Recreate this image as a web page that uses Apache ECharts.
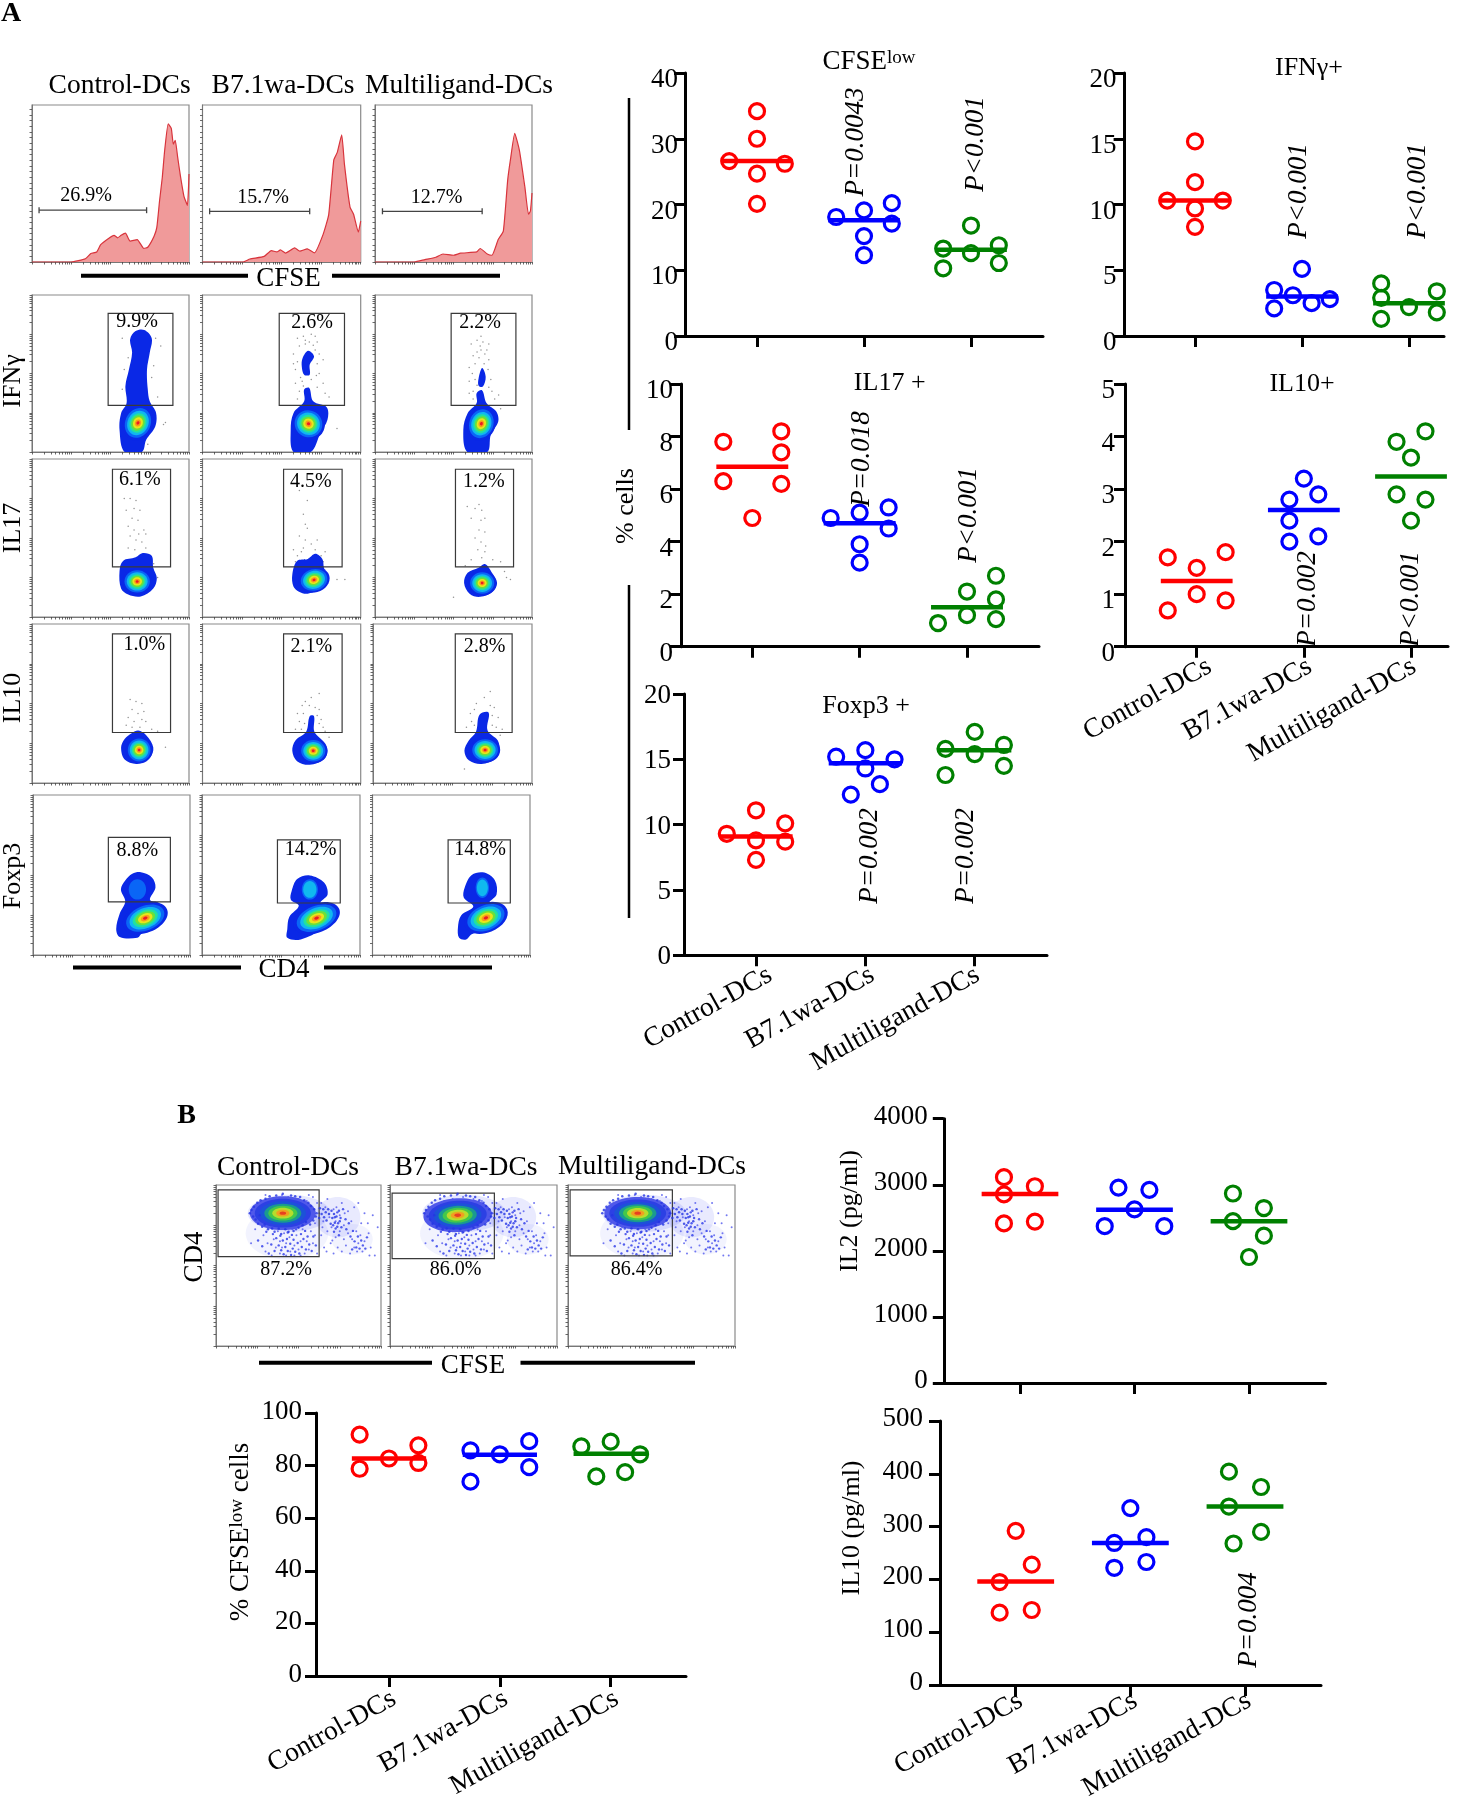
<!DOCTYPE html>
<html><head><meta charset="utf-8">
<style>html,body{margin:0;padding:0;background:#fff}#c{width:1477px;height:1800px}</style>
<script src="https://cdn.jsdelivr.net/npm/echarts@6/dist/echarts.min.js"></script>
</head><body><div id="c"></div>
<script>
// ---------- dot-plot data ----------
const categories = ['Control-DCs','B7.1wa-DCs','Multiligand-DCs'];
const cfseValues = [[34.2,30,26.6,26.2,24.7,20.1],[18.1,19.1,20.2,17.1,15.2,12.3],[13.3,16.8,13.8,12.6,11.1,10.3]];
const cfseX      = [[1,1,.74,1.26,1,1],[1.74,2,2.26,2.26,2,2],[2.74,3,3.26,3,3.26,2.74]];
const cfseMeans  = [26.6,17.6,13.1];
const ifnValues  = [[14.8,11.7,10.3,10.3,9.7,8.3],[5.1,3.5,3.1,2.5,2.8,2.1],[4,2.9,2.2,3.4,1.8,1.3]];
const ifnX       = [[1,1,.74,1.26,1,1],[2,1.74,1.915,2.09,2.26,1.74],[2.74,2.74,3,3.26,3.26,2.74]];
const ifnMeans   = [10.3,3.0,2.5];
const il17Values = [[8.2,7.8,7.4,6.3,6.2,4.9],[4.9,5.1,5.3,4.5,3.9,3.2],[2.7,2.1,1.8,1.2,1.05,.9]];
const il17X      = [[1.27,.73,1.27,.73,1.27,1],[1.73,2,2.27,2.27,2,2],[3.27,3,3.27,3,3.27,2.73]];
const il17Means  = [6.85,4.7,1.5];
const il10Values = [[1.8,1.7,1.5,1,.88,.69],[3.2,2.9,2.8,2.4,2.1,2],[4.1,3.9,3.6,2.9,2.8,2.4]];
const il10X      = [[1.27,.73,1,1,1.27,.73],[2,2.135,1.865,1.865,2.135,1.865],[3.135,2.865,3,2.865,3.135,3]];
const il10Means  = [1.25,2.6,3.24];
const foxValues  = [[11.1,10.1,9.3,8.8,8.7,7.3],[15.7,15.2,15,14.3,13.1,12.3],[17.1,15.8,16.1,15.4,14.5,13.8]];
const foxX       = [[1,1.267,.733,1,1.267,1],[2,1.733,2.267,2,2.133,1.867],[3,2.733,3.267,3,3.267,2.733]];
const foxMeans   = [9.1,14.7,15.7];
const il2Values  = [[3115,2978,2854,2415,2443],[2957,2923,2628,2374,2374],[2868,2648,2449,2230,1907]];
const il2X       = [[.86,1.13,.86,.86,1.13],[1.86,2.13,2,1.74,2.26],[2.86,3.13,2.86,3.13,3]];
const il2Means   = [2861,2621,2449];
const il10pgValues = [[292,228,195,142,137],[335,280,269,233,222],[404,375,338,290,268]];
const il10pgX    = [[1,1.14,.86,1.14,.86],[2,2.14,1.86,2.14,1.86],[2.86,3.14,2.86,3.14,2.9]];
const il10pgMeans= [196,269,338];
const cfseBValues= [[91.8,87.7,82.7,81,78.8],[89.3,85.8,84.3,79.4,73.9],[89.1,87.3,84.3,77.5,75.9]];
const cfseBX     = [[.735,1.265,1,1.265,.735],[2.265,1.735,2,2.265,1.735],[3,2.735,3.265,3.13,2.87]];
const cfseBMeans = [82.7,84.1,84.5];

// ---------- CFSE histograms (log CFSE, % of peak scale) ----------
const hist1 = [[0,0],[1,0],[1.36,2.1],[1.5,5.4],[1.65,6.4],[1.75,11],[1.95,15],[2.09,17],[2.18,15.4],[2.27,17],[2.38,18.4],[2.5,13.3],[2.68,14.3],[2.85,8.6],[2.95,9.4],[3.11,16.4],[3.18,22],[3.25,39],[3.32,54],[3.38,71],[3.47,88],[3.55,85],[3.6,75],[3.65,77.5],[3.71,67],[3.78,55],[3.87,42],[3.96,36],[4,56]];
const hist2 = [[0,0],[1.02,0],[1.2,1.9],[1.56,3.6],[1.74,7.3],[1.88,6.4],[1.97,7.7],[2.1,5.7],[2.33,9],[2.46,6.9],[2.65,8.4],[2.83,5.8],[3.05,17.6],[3.19,30],[3.32,65],[3.41,70],[3.52,81],[3.59,62],[3.73,35],[3.82,30.4],[3.94,19],[4,26]];
const hist3 = [[0,0],[1,0],[1.27,1.5],[1.55,3],[1.73,5.1],[2,4.3],[2.18,5.6],[2.59,6.4],[2.68,8.6],[2.86,5.1],[2.98,4.3],[3.14,14.3],[3.27,19.7],[3.38,52],[3.45,65],[3.56,82],[3.68,71],[3.82,47.5],[3.91,30.4],[3.96,32.5],[4,44]];
const histGates = [[.18,2.92,33],[.18,2.71,32.3],[.19,2.73,32.3]];
const histPercents = ['26.9%','15.7%','12.7%'];
const histLabelAt = [[1.38,42],[1.53,41],[1.57,41]];

// ---------- flow plots (log/log) ----------
const logTicks = [0,.3,.48,.6,.7,.78,.85,.9,.95,1,1.3,1.48,1.6,1.7,1.78,1.85,1.9,1.95,2,2.3,2.48,2.6,2.7,2.78,2.85,2.9,2.95,3,3.3,3.48,3.6,3.7,3.78,3.85,3.9,3.95,4];
const histYTicks = [0,3.6,7.2,10.8,14.4,18,21.6,25.2,28.8,32.4,36,39.6,43.2,46.8,50.4,54,57.6,61.2,64.8,68.4,72,75.6,79.2,82.8,86.4,90,93.6,97.2];
const flowRowNames = ['IFNγ','IL17','IL10','Foxp3'];
const flowPercents = [['9.9%','2.6%','2.2%'],['6.1%','4.5%','1.2%'],['1.0%','2.1%','2.8%'],['8.8%','14.2%','14.8%']];
const flowLabelAt = [[[2.68,3.32],[2.77,3.3],[2.68,3.3]],[[2.75,3.48],[2.74,3.43],[2.77,3.43]],[[2.86,3.49],[2.75,3.44],[2.81,3.44]],[[2.66,2.61],[2.75,2.63],[2.73,2.63]]];
const flowGates = [[[1.94,3.59,1.19,3.53],[1.94,3.59,1.19,3.53],[1.94,3.59,1.19,3.53]],[[2.05,3.53,1.27,3.74],[2.05,3.53,1.27,3.74],[2.05,3.53,1.27,3.74]],[[2.05,3.53,1.27,3.75],[2.05,3.53,1.27,3.75],[2.07,3.5,1.27,3.75]],[[1.92,3.5,1.33,2.94],[1.91,3.5,1.3,2.88],[1.92,3.5,1.3,2.88]]];
const flowOutlines = [
 [[[[2.36,0],[2.23,.57],[2.27,.99],[2.41,1.25],[2.38,1.68],[2.47,2.1],[2.55,2.53],[2.5,2.87],[2.64,3.08],[2.86,3.11],[3.05,2.9],[3.0,2.53],[2.93,2.1],[2.95,1.59],[3,1.29],[3.16,1.0],[3.14,.65],[2.91,.31],[2.8,0]]],
  [[[2.3,0],[2.23,.57],[2.3,.99],[2.57,1.29],[2.57,1.59],[2.7,1.63],[2.8,1.29],[3.14,1.14],[3.16,.82],[2.98,.48],[2.74,0]],[[2.53,2.39],[2.67,2.58],[2.82,2.44],[2.71,2.22],[2.71,1.97],[2.57,1.97],[2.51,2.18]]],
  [[[2.35,0],[2.25,.57],[2.36,.99],[2.59,1.25],[2.59,1.5],[2.73,1.57],[2.84,1.25],[3.09,1.03],[3.14,.78],[2.95,.44],[2.86,0]],[[2.64,1.88],[2.73,2.14],[2.82,1.92],[2.75,1.67],[2.64,1.69]]]],
 [[[[2.27,.72],[2.23,1.16],[2.32,1.42],[2.64,1.51],[2.82,1.62],[3.05,1.55],[3.09,1.25],[3.18,.99],[3.09,.72],[2.77,.52],[2.45,.57]]],
  [[[2.3,.77],[2.27,1.07],[2.39,1.42],[2.66,1.47],[2.85,1.6],[3.03,1.47],[3.07,1.25],[3.16,.99],[3.07,.77],[2.66,.59],[2.44,.64]]],
  [[[2.27,.86],[2.36,1.12],[2.64,1.25],[2.8,1.34],[2.98,1.12],[3.11,.86],[3,.64],[2.68,.51],[2.41,.59]]]],
 [[[[2.27,.89],[2.36,1.11],[2.55,1.26],[2.71,1.32],[2.91,1.2],[3.09,.89],[3,.63],[2.68,.48],[2.36,.59]]],
  [[[2.27,.81],[2.35,1.07],[2.62,1.29],[2.71,1.68],[2.82,1.68],[2.83,1.29],[3.07,1.03],[3.16,.81],[3.07,.59],[2.71,.46],[2.39,.55]]],
  [[[2.3,.81],[2.41,1.07],[2.59,1.29],[2.68,1.72],[2.91,1.77],[2.88,1.33],[3.14,1.07],[3.18,.81],[3.09,.61],[2.73,.48],[2.41,.57]]]],
 [[[[2.12,.65],[2.21,1.04],[2.35,1.34],[2.24,1.64],[2.35,1.86],[2.53,2.03],[2.75,2.07],[3.03,1.94],[3.12,1.69],[2.98,1.38],[3.21,1.3],[3.3,1.08],[3.16,.82],[2.75,.52],[2.66,.43],[2.21,.45]]],
  [[[2.16,.65],[2.21,.95],[2.45,1.23],[2.25,1.38],[2.27,1.6],[2.41,1.9],[2.73,1.99],[3.09,1.81],[3.18,1.51],[3,1.3],[3.32,1.17],[3.36,.95],[3.04,.65],[2.5,.39],[2.16,.43]]],
  [[[2.17,.69],[2.25,.99],[2.56,1.21],[2.32,1.43],[2.34,1.68],[2.52,2.0],[2.84,2.06],[3.11,1.86],[3.15,1.51],[2.97,1.3],[3.25,1.17],[3.29,.95],[3.02,.65],[2.52,.52],[2.38,.39],[2.2,.43]]]]
];
// density cores: cx, cy, rx, ry, tilt (deg)
const flowCores = [
 [[2.70,.74,.38,.46,-25],[2.68,.72,.42,.4,-35],[2.71,.72,.36,.44,-20]],
 [[2.68,.9,.38,.33,0],[2.82,.94,.4,.32,15],[2.73,.86,.36,.32,0]],
 [[2.73,.83,.34,.34,0],[2.8,.81,.36,.32,0],[2.82,.83,.38,.32,0]],
 [[2.86,.92,.6,.36,22],[2.9,.92,.62,.36,22],[2.88,.93,.58,.37,22]]
];
// upper Foxp3+ lobes: cx, cy, rx, ry, colour level
const foxLobes = [[2.66,1.64,.26,.3,1],[2.73,1.64,.24,.3,1],[2.79,1.68,.2,.3,1]];
const speckles = [
 [[[2.3,2.9],[2.45,2.4],[3.15,2.9],[3.28,2.7],[3.2,1.4],[3.35,.7],[2.35,2.1],[2.3,1.6],[3.05,1.9],[3.4,.75],[2.95,.2],[3.1,2.2]],
  [[2.4,2.9],[2.55,2.95],[2.75,3.0],[2.85,2.95],[2.9,2.8],[2.7,2.8],[2.45,2.7],[2.3,2.5],[2.4,2.3],[2.35,2.1],[2.48,1.9],[2.6,2.85],[2.95,2.5],[2.9,2.25],[2.95,2.0],[3.05,1.75],[3.1,1.5],[2.35,1.75],[2.45,1.55],[2.4,1.35],[2.9,1.65],[3.05,2.35],[2.75,1.85],[2.88,1.95],[2.3,2.25],[2.52,1.8],[2.85,2.6],[2.55,1.68],[3.2,1.4],[3.4,.6],[2.6,2.75],[2.8,2.72]],
  [[2.45,2.75],[2.6,2.85],[2.75,2.8],[2.9,2.75],[2.7,2.6],[2.6,2.55],[2.8,2.5],[2.5,2.45],[2.55,2.25],[2.4,2.15],[2.48,2.0],[2.55,1.85],[2.6,1.7],[2.9,2.35],[2.88,2.1],[2.95,1.85],[2.9,1.65],[3.05,1.35],[2.4,1.8],[2.4,1.5],[2.5,1.35],[2.98,1.55],[3.15,1.45],[2.65,2.4],[2.78,2.25],[2.7,2.95],[2.85,2.6],[3.2,1.1],[2.5,1.55],[2.68,2.7]]],
 [[[2.35,3.0],[2.5,3.0],[2.65,2.95],[2.4,2.7],[2.6,2.75],[2.75,2.7],[2.55,2.5],[2.7,2.45],[2.45,2.3],[2.6,2.2],[2.72,2.1],[2.85,2.2],[2.9,2.1],[2.5,2.05],[2.65,1.95],[2.8,1.9],[2.45,1.75],[2.62,1.7],[2.9,1.75],[3.1,1.35],[3.2,1.0]],
  [[2.45,3.2],[2.65,2.95],[2.55,2.6],[2.6,2.35],[2.65,2.25],[2.45,2.05],[2.6,1.95],[2.75,1.85],[2.3,1.7],[2.4,1.55],[2.5,1.65],[2.85,1.7],[3.0,1.55],[3.05,1.4],[2.35,1.4],[2.55,1.75],[3.4,.95],[3.6,.95],[3.1,1.65],[2.9,1.95]],
  [[2.35,2.8],[2.55,2.75],[2.65,2.85],[2.72,2.7],[2.7,2.45],[2.8,2.5],[2.45,2.5],[2.65,2.2],[2.8,2.15],[2.55,2.0],[2.7,1.9],[2.82,1.8],[2.62,1.7],[2.8,1.65],[2.72,1.5],[2.45,1.45],[2.3,1.3],[3.0,1.45],[3.2,1.4],[3.3,1.15],[3.35,1.0],[3.45,.95],[2.0,.5]]],
 [[[2.5,2.1],[2.65,2.05],[2.8,2.0],[2.55,1.85],[2.7,1.75],[2.85,1.8],[2.45,1.65],[2.6,1.55],[2.8,1.6],[2.9,1.55],[2.4,1.45],[2.55,1.4],[2.75,1.4],[3.05,1.35],[3.2,1.3],[3.4,.9]],
  [[2.95,2.25],[2.75,2.15],[2.6,2.05],[2.52,1.95],[2.7,1.95],[2.85,1.9],[2.95,1.85],[2.4,1.75],[2.55,1.75],[2.9,1.7],[3.0,1.6],[2.45,1.55],[2.58,1.5],[2.95,1.5],[3.05,1.4],[2.35,1.35],[2.5,1.35],[3.1,1.3],[3.2,1.15]],
  [[2.95,2.3],[2.8,2.15],[2.6,2.0],[2.55,1.85],[2.95,1.95],[3.05,1.9],[2.45,1.75],[3.0,1.7],[3.15,1.65],[2.48,1.55],[2.55,1.45],[3.0,1.45],[3.1,1.4],[3.25,1.35],[2.35,1.4],[3.2,1.2],[2.3,.35]]],
 [[],[],[]]
];
// panel B density
const bPercents = ['87.2%','86.0%','86.4%'];
const bLabelAt = [[1.7,1.9],[1.57,1.9],[1.64,1.9]];
const bGates = [[.05,2.5,2.22,3.88],[.05,2.5,2.17,3.8],[.05,2.5,2.24,3.88]];
const bCores = [[1.62,3.3,.8,.42,0],[1.62,3.25,.82,.42,3],[1.67,3.3,.8,.4,0]];
const bDots = [[.85,2.55],[.95,2.9],[1.0,3.3],[1.05,3.45],[1.1,3.1],[1.15,2.75],[1.2,2.35],[1.25,2.55],[1.3,2.95],[1.3,3.6],[1.35,2.25],[1.4,2.65],[1.45,2.45],[1.5,2.85],[1.5,3.65],[1.55,2.3],[1.55,2.6],[1.6,2.45],[1.65,2.8],[1.7,2.25],[1.7,2.55],[1.75,3.7],[1.78,2.7],[1.8,2.35],[1.85,2.9],[1.9,2.5],[1.9,2.25],[1.95,2.75],[2.0,3.65],[2.0,2.4],[2.05,2.6],[2.1,2.9],[2.15,2.3],[2.2,3.6],[2.2,2.6],[2.25,2.4],[2.3,2.85],[2.35,3.7],[2.35,2.55],[2.4,3.05],[2.45,3.55],[2.45,2.3],[2.5,3.3],[2.55,2.75],[2.55,3.55],[2.6,3.1],[2.62,2.45],[2.65,3.45],[2.7,2.85],[2.7,3.65],[2.75,3.2],[2.78,2.55],[2.8,2.95],[2.85,3.4],[2.85,2.3],[2.9,3.1],[2.9,2.7],[2.95,2.45],[3.0,3.25],[3.0,2.85],[3.05,3.55],[3.05,2.35],[3.1,3.0],[3.1,2.65],[3.15,2.5],[3.2,3.35],[3.2,2.8],[3.25,2.3],[3.3,2.65],[3.35,3.45],[3.35,2.45],[3.4,2.85],[3.45,3.55],[3.45,2.55],[3.5,2.75],[3.55,2.35],[3.6,3.3],[3.6,2.6],[3.7,2.8],[3.75,2.45],[3.8,3.25],[3.85,2.25],[3.92,2.95],[1.2,3.75],[1.35,3.0],[1.6,3.75],[1.95,3.0],[2.05,2.25],[2.25,3.75],[2.4,2.75],[2.58,2.95],[2.68,2.35],[2.82,2.62],[2.92,3.45],[3.12,3.3],[3.28,3.1],[3.42,2.35],[3.52,3.05],[3.68,3.05],[3.72,2.25]];
const bDotsLower = [[1.02,2.62],[1.12,2.48],[1.22,2.84],[1.28,2.3],[1.34,2.52],[1.38,2.78],[1.42,2.36],[1.46,2.68],[1.48,2.96],[1.52,2.5],[1.56,2.74],[1.58,2.38],[1.62,2.62],[1.64,2.28],[1.66,2.92],[1.68,2.46],[1.72,2.66],[1.74,2.36],[1.76,2.84],[1.8,2.54],[1.82,2.26],[1.84,2.76],[1.86,2.42],[1.88,2.64],[1.92,2.34],[1.94,2.9],[1.98,2.56],[2.02,2.3],[2.06,2.78],[2.08,2.46],[2.12,2.66],[2.16,2.86],[2.18,2.4],[2.22,2.72],[2.26,2.52],[2.32,2.36],[2.36,2.72],[2.42,2.5],[2.84,3.0],[2.86,2.84],[2.88,3.2],[2.9,2.92],[2.94,3.32],[2.96,3.05],[2.98,2.75],[3.02,3.18],[3.04,2.95],[3.08,3.4],[3.14,3.15],[3.16,2.9],[3.22,3.05],[3.26,2.72],[3.3,2.4],[3.32,2.86],[3.36,2.6],[3.4,2.45],[3.44,2.72],[3.48,2.42],[3.52,2.62],[3.56,2.5],[3.62,2.42],[3.66,2.7]];
const bDotsDense = [[.82,3.3],[.86,3.38],[.9,3.22],[.92,3.46],[.96,3.14],[1.0,3.56],[1.02,3.04],[1.06,3.25],[1.08,3.62],[1.12,2.96],[1.18,3.02],[1.2,3.66],[1.26,2.9],[1.3,3.72],[1.36,2.92],[1.42,2.84],[1.46,3.74],[1.52,2.92],[1.58,2.78],[1.62,3.78],[1.68,2.9],[1.74,2.82],[1.82,3.74],[1.88,2.86],[1.92,3.72],[2.0,2.94],[2.04,3.7],[2.1,3.0],[2.14,3.62],[2.18,3.08],[2.24,3.56],[2.28,3.02],[2.3,3.48],[2.36,3.12],[2.38,3.4],[2.42,3.22],[2.44,3.3],[2.5,3.18],[2.52,3.42],[2.56,3.28],[2.6,3.4],[2.62,3.2],[2.66,3.32],[2.68,3.12],[2.72,3.4],[2.74,3.28],[2.78,3.04],[2.8,3.36],[2.82,3.18],[2.86,3.28],[2.88,3.06],[2.92,3.22],[2.94,2.96],[2.98,3.36],[3.0,3.1]];

// ---------- layout ----------
const SERIF = '"Liberation Serif","Times New Roman",serif';
const BLK = '#000';
const dotColors = ['#ff0000','#0000ff','#008000'];
const densityColors = ['#0a28e6','#0a66f6','#10b8ef','#22e0a0','#6be03a','#e7e61a','#f99a1a','#ec1c24'];
const densityScales = [1,.85,.7,.56,.44,.32,.2,.1];
const densityColorsB = ['#5058ea','#2c40e4','#1c52d8','#1a9a90','#44c84a','#b8dc2c','#f0a020','#e84020'];

const grids=[],xAxes=[],yAxes=[],seriesList=[],graphics=[];

function text(t,x,y,o){o=o||{};
  graphics.push({type:'text',x,y,rotation:o.rot?Math.PI/2:0,z:20,silent:true,
    style:{text:t,x:0,y:0,align:'center',verticalAlign:'middle',fontFamily:SERIF,fontSize:o.size||26,
      fontStyle:o.italic?'italic':'normal',fontWeight:o.bold?'bold':'normal',fill:BLK,rich:o.rich}});
}
function seg(x1,y1,x2,y2,w){graphics.push({type:'line',z:15,silent:true,shape:{x1,y1,x2,y2},style:{stroke:BLK,lineWidth:w}});}

function dotPanel(c){
  const g=grids.length; const pxU=(c.t3-c.t1)/2;
  const min=1-(c.t1-c.L)/pxU, max=3+(c.R-c.t3)/pxU;
  grids.push({left:c.L,top:c.T,width:c.R-c.L,height:c.B-c.T,outerBoundsMode:'none'});
  const xi=xAxes.length;
  xAxes.push({type:'value',gridIndex:g,min,max,position:'bottom',splitLine:{show:false},
    axisLine:{onZero:false,lineStyle:{color:BLK,width:3}},
    axisTick:{customValues:[1,2,3],length:11,lineStyle:{color:BLK,width:3}},axisLabel:{show:false}});
  if(c.labels){
    const d=c.shift/pxU;
    const lv=[1,2+(c.nudge?c.nudge[0]:0)/pxU,3+(c.nudge?c.nudge[1]:0)/pxU];
    xAxes.push({type:'value',gridIndex:g,min:min-d,max:max-d,position:'bottom',splitLine:{show:false},
      axisLine:{show:false,onZero:false},axisTick:{show:false},
      axisLabel:{show:true,customValues:lv,rotate:29,margin:c.lm,fontFamily:SERIF,fontSize:27.5,color:BLK,
        formatter:v=>categories[Math.round(v)-1]}});
  }
  const lab={fontFamily:SERIF,fontSize:27,color:BLK,margin:c.m,formatter:v=>String(v)};
  if(c.dy>0){lab.verticalAlign='top';lab.lineHeight=c.dy*2;}
  if(c.dy<0){lab.verticalAlign='bottom';lab.lineHeight=-c.dy*2;}
  yAxes.push({type:'value',gridIndex:g,min:0,max:c.max,interval:c.int,splitLine:{show:false},
    axisLine:{onZero:false,show:true,lineStyle:{color:BLK,width:3}},
    axisTick:{show:true,length:11,lineStyle:{color:BLK,width:3}},axisLabel:lab});
  const yi=yAxes.length-1;
  c.values.forEach((vals,i)=>{
    seriesList.push({type:'scatter',name:categories[i],xAxisIndex:xi,yAxisIndex:yi,symbol:'circle',symbolSize:15,z:3,
      itemStyle:{color:'transparent',borderColor:dotColors[i],borderWidth:3.2,opacity:1},
      data:vals.map((v,k)=>[c.xs[i][k],v])});
    seriesList.push({type:'line',name:categories[i]+' mean',xAxisIndex:xi,yAxisIndex:yi,showSymbol:false,symbol:'none',z:4,
      lineStyle:{color:dotColors[i],width:4.5},
      data:[[i+1-.335,c.means[i]],[i+1+.335,c.means[i]]]});
  });
}

function frameAxes(L,T,R,B,xmax,ymax,yTicks){
  const g=grids.length;
  grids.push({left:L,top:T,width:R-L,height:B-T,show:true,borderColor:'#8a8a8a',borderWidth:1.2,backgroundColor:'#fff',outerBoundsMode:'none'});
  xAxes.push({type:'value',gridIndex:g,min:0,max:xmax,splitLine:{show:false},axisLine:{onZero:false,lineStyle:{color:'#777',width:1}},
    axisTick:{customValues:logTicks,length:2.5,lineStyle:{color:'#444',width:.8}},axisLabel:{show:false}});
  yAxes.push({type:'value',gridIndex:g,min:0,max:ymax,splitLine:{show:false},axisLine:{onZero:false,show:true,lineStyle:{color:'#777',width:1}},
    axisTick:{show:true,customValues:yTicks,length:2.5,lineStyle:{color:'#444',width:.8}},axisLabel:{show:false}});
  return {xi:xAxes.length-1,yi:yAxes.length-1};
}
function poly(api,pts,fill){return {type:'polygon',shape:{points:pts.map(p=>api.coord(p)),smooth:.35},style:{fill}};}
function nested(api,core,start,cols){
  const [cx,cy,rx,ry,rot]=core, c=api.coord([cx,cy]), s=api.size([rx,ry]);
  cols=cols||densityColors;
  return densityScales.slice(start||0).map((k,i)=>({type:'ellipse',x:c[0],y:c[1],rotation:rot*Math.PI/180,
    shape:{cx:0,cy:0,rx:s[0]*k,ry:s[1]*k},style:{fill:cols[i+(start||0)]}}));
}
function gateRect(api,g){const a=api.coord([g[0],g[3]]),b=api.coord([g[1],g[2]]);
  return {type:'rect',shape:{x:a[0],y:a[1],width:b[0]-a[0],height:b[1]-a[1]},style:{fill:'none',stroke:'#3a3a3a',lineWidth:1.2}};}
function pct(api,t,p,size){const c=api.coord(p);
  return {type:'text',x:c[0],y:c[1],style:{text:t,align:'center',verticalAlign:'middle',fontFamily:SERIF,fontSize:size||20,fill:BLK}};}

// CFSE histograms
[[32,189],[202.5,360.7],[375,532]].forEach((col,i)=>{
  const a=frameAxes(col[0],105,col[1],262,4,100,histYTicks);
  seriesList.push({type:'line',name:'CFSE histogram '+(i+1),xAxisIndex:a.xi,yAxisIndex:a.yi,showSymbol:false,symbol:'none',smooth:.15,z:3,
    lineStyle:{color:'#d8343c',width:1.2},areaStyle:{color:'#f09a9a',opacity:1},data:[hist1,hist2,hist3][i]});
  seriesList.push({type:'custom',xAxisIndex:a.xi,yAxisIndex:a.yi,z:5,silent:true,data:[[0,0]],clip:false,
    renderItem:(p,api)=>{const [x0,x1,y]=histGates[i],l=api.coord([x0,y]),r=api.coord([x1,y]);
      const ln=(x1_,y1_,x2_,y2_)=>({type:'line',shape:{x1:x1_,y1:y1_,x2:x2_,y2:y2_},style:{stroke:'#444',lineWidth:1.3}});
      return {type:'group',children:[ln(l[0],l[1],r[0],r[1]),ln(l[0],l[1]-3,l[0],l[1]+3),ln(r[0],r[1]-3,r[0],r[1]+3),pct(api,histPercents[i],histLabelAt[i])]};}});
});

// flow plots
const flowRowsPx=[[295,452],[459,617],[624,783],[795,955]];
const flowColsPx=[
 [[32,189],[202.5,360.7],[375,532]],[[32,189],[202.5,360.7],[375,532]],
 [[32,189],[202.5,360.7],[373,532]],[[33,190],[202,360],[372.5,530]]];
flowRowNames.forEach((rn,r)=>{
  [0,1,2].forEach(c=>{
    const col=flowColsPx[r][c],row=flowRowsPx[r];
    const a=frameAxes(col[0],row[0],col[1],row[1],4,4,logTicks);
    if(speckles[r][c].length) seriesList.push({type:'scatter',name:rn+' events '+(c+1),xAxisIndex:a.xi,yAxisIndex:a.yi,symbolSize:1.5,z:2,silent:true,
      itemStyle:{color:'#777'},data:speckles[r][c]});
    seriesList.push({type:'custom',name:rn+' density '+(c+1),xAxisIndex:a.xi,yAxisIndex:a.yi,z:3,silent:true,data:[[0,0]],clip:true,
      renderItem:(p,api)=>{
        const ch=[];
        flowOutlines[r][c].forEach(o=>ch.push(poly(api,o,densityColors[0])));
        if(r===3){const l=foxLobes[c];
          ch.push(...nested(api,[l[0],l[1],l[2],l[3],0],l[4]).slice(0,c===0?1:2));
        }
        ch.push(...nested(api,flowCores[r][c],0).slice(0));
        ch.push(gateRect(api,flowGates[r][c]));
        ch.push(pct(api,flowPercents[r][c],flowLabelAt[r][c]));
        return {type:'group',children:ch};
      }});
  });
});

// panel B flow plots
[[216,381],[390,557],[568,735]].forEach((col,i)=>{
  const a=frameAxes(col[0],1185,col[1],1346,4,4,logTicks);
  seriesList.push({type:'custom',xAxisIndex:a.xi,yAxisIndex:a.yi,z:1,silent:true,data:[[0,0]],
    renderItem:(p,api)=>{
      const haze=(x,y,rx,ry,o)=>{const c=api.coord([x,y]),s=api.size([rx,ry]);
        return {type:'ellipse',shape:{cx:c[0],cy:c[1],rx:s[0],ry:s[1]},style:{fill:'rgba(70,85,245,'+o+')'}};};
      const k=bCores[i];
      return {type:'group',children:[haze(k[0]+.1,2.8,1.0,.65,.07),haze(2.95,3.2,.55,.5,.12),haze(3.3,2.65,.5,.38,.07),haze(k[0]+.15,3.3,1.0,.46,.14)]};}});
  [[bDots,'#5058ee',2],[bDotsLower,'#2a38e8',2.4]].forEach((d,j)=>seriesList.push({type:'scatter',name:'CFSE events '+(i+1)+'-'+j,xAxisIndex:a.xi,yAxisIndex:a.yi,symbolSize:d[2],z:2,silent:true,
    itemStyle:{color:d[1]},data:d[0]}));
  seriesList.push({type:'custom',name:'CFSE density '+(i+1),xAxisIndex:a.xi,yAxisIndex:a.yi,z:3,silent:true,data:[[0,0]],
    renderItem:(p,api)=>({type:'group',children:[...nested(api,bCores[i],0,densityColorsB),gateRect(api,[bGates[i][0],bGates[i][1],bGates[i][2],bGates[i][3]]),pct(api,bPercents[i],bLabelAt[i])]})});
  seriesList.push({type:'scatter',name:'CFSE dense events '+(i+1),xAxisIndex:a.xi,yAxisIndex:a.yi,symbolSize:2.5,z:4,silent:true,
    itemStyle:{color:'#2434e4'},data:bDotsDense});
});

// dot plots
dotPanel({L:685,R:1043,T:73,B:336,t1:757,t3:971,max:40,int:10,m:7,dy:7,values:cfseValues,xs:cfseX,means:cfseMeans});
dotPanel({L:1124.6,R:1444,T:73,B:336,t1:1195,t3:1409,max:20,int:5,m:8,dy:7,values:ifnValues,xs:ifnX,means:ifnMeans});
dotPanel({L:681,R:1039,T:384,B:646.7,t1:752.3,t3:967,max:10,int:2,m:8,dy:7,values:il17Values,xs:il17X,means:il17Means});
dotPanel({L:1125,R:1448,T:384,B:646.7,t1:1196.7,t3:1411,max:5,int:1,m:10,dy:7,values:il10Values,xs:il10X,means:il10Means,labels:true,shift:13,lm:18,nudge:[-7,-10]});
dotPanel({L:684,R:1047,T:694,B:955.3,t1:756,t3:974.7,max:20,int:5,m:13,dy:2,values:foxValues,xs:foxX,means:foxMeans,labels:true,shift:14,lm:18,nudge:[-7,-11]});
dotPanel({L:943.8,R:1325.5,T:1118.7,B:1383,t1:1020,t3:1249,max:4000,int:1000,m:16,dy:-2,values:il2Values,xs:il2X,means:il2Means});
dotPanel({L:940,R:1321,T:1421,B:1685,t1:1015.7,t3:1245,max:500,int:100,m:17,dy:-2,values:il10pgValues,xs:il10pgX,means:il10pgMeans,labels:true,shift:5,lm:14,nudge:[0,-1]});
dotPanel({L:316,R:686,T:1413,B:1676,t1:389,t3:610.7,max:100,int:20,m:14,dy:-1,values:cfseBValues,xs:cfseBX,means:cfseBMeans,labels:true,shift:5,lm:21,nudge:[1,1]});

// panel titles
const supRich={n:{fontFamily:SERIF,fontSize:27,fill:BLK},s:{fontFamily:SERIF,fontSize:19,fill:BLK,verticalAlign:'top',padding:[0,0,8,0]}};
text('{n|CFSE}{s|low}',869,62,{rich:supRich});
text('IFNγ+',1309,68); text('IL17 +',889.7,383); text('IL10+',1302,384); text('Foxp3 +',866,706);

// p-values
[['P=0.0043',856,142],['P<0.001',976,144],['P<0.001',1299,191],['P<0.001',1418,191],['P=0.018',862,459],['P<0.001',969,515],
 ['P=0.002',1307.5,599],['P<0.001',1411,599],['P=0.002',870,856],['P=0.002',966,856],['P=0.004',1249,1620]]
 .forEach(p=>text(p[0],p[1],p[2],{rot:true,italic:true,size:27}));

// furniture
text('A',11,14,{size:28,bold:true}); text('B',186.5,1116,{size:28,bold:true});
[[119.6,86],[283,86],[459,86]].forEach((p,i)=>text(categories[i],p[0],p[1],{size:27.5}));
[[288,1168],[466,1168],[652,1167]].forEach((p,i)=>text(categories[i],p[0],p[1],{size:27.5}));
seg(81,275.7,248,275.7,4); seg(332,275.7,500,275.7,4); text('CFSE',288.6,279,{size:27});
seg(73,967.5,241,967.5,4); seg(324,967.5,492,967.5,4); text('CD4',284,970,{size:27});
[381,528,698,876].forEach((y,i)=>text(flowRowNames[i],13,y,{rot:true,size:26}));
seg(629,98,629,430,2.5); seg(629,585,629,918,2.5); text('% cells',626,506,{rot:true});
seg(259,1362.7,432,1362.7,4); seg(520.5,1362.7,695,1362.7,4); text('CFSE',473,1366,{size:27});
text('CD4',195,1257,{rot:true,size:27});
text('IL2 (pg/ml)',850,1211,{rot:true}); text('IL10 (pg/ml)',852,1528,{rot:true});
text('{n|% CFSE}{s|low}{n| cells}',241,1532,{rot:true,rich:supRich});

const chart=echarts.init(document.getElementById('c'),null,{renderer:'canvas',width:1477,height:1800});
chart.setOption({animation:false,backgroundColor:'#fff',grid:grids,xAxis:xAxes,yAxis:yAxes,series:seriesList,graphic:graphics,tooltip:{show:false}});
</script></body></html>
